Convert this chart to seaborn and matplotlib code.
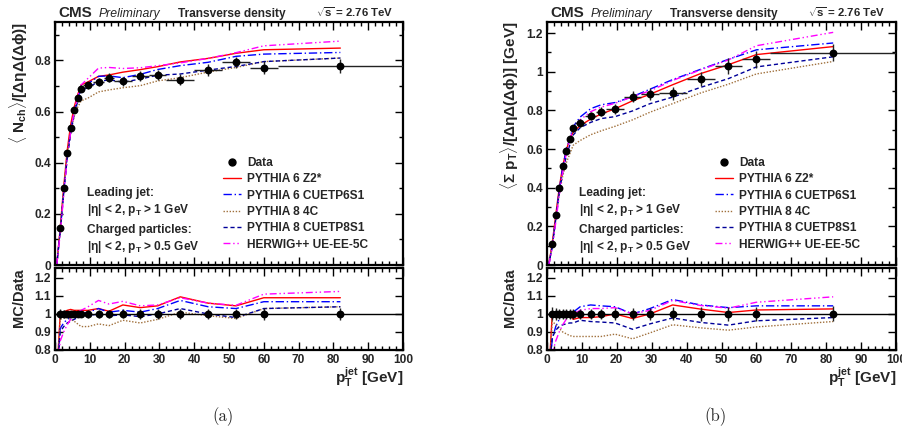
import numpy as np
import pandas as pd
import matplotlib
matplotlib.use("Agg")
import matplotlib.pyplot as plt
from matplotlib.lines import Line2D
from matplotlib.ticker import MultipleLocator, FuncFormatter
import seaborn as sns

# ---- binning in leading-jet pT [GeV] ----
pt_lo = [1, 2, 3, 4, 5, 6, 7, 8, 11, 14, 17, 22, 27, 32, 40, 48, 56, 64]
pt_hi = [2, 3, 4, 5, 6, 7, 8, 11, 14, 17, 22, 27, 32, 40, 48, 56, 64, 100]
first_bin_center = 0.5   # 0-1 GeV bin, MC only

# ---- (a) charged-particle density ----
nch_data = [0.145, 0.302, 0.438, 0.535, 0.605, 0.652, 0.690, 0.702, 0.716,
            0.732, 0.718, 0.738, 0.742, 0.725, 0.762, 0.792, 0.772, 0.778]
nch_err = [0.004, 0.006, 0.008, 0.010, 0.011, 0.012, 0.013, 0.014, 0.016,
           0.017, 0.018, 0.020, 0.020, 0.021, 0.022, 0.023, 0.024, 0.026]
nch_ratio_z2 = [1.00, 1.01, 1.02, 1.025, 1.02, 1.02, 1.02, 1.02, 1.03,
                1.015, 1.05, 1.035, 1.045, 1.095, 1.06, 1.045, 1.09, 1.09]
nch_ratio_p6s1 = [0.92, 0.95, 0.97, 0.98, 0.99, 1.00, 1.00, 1.01, 1.03,
                  1.01, 1.02, 1.01, 1.03, 1.075, 1.04, 1.03, 1.068, 1.068]
nch_ratio_4c = [0.97, 0.98, 0.98, 0.97, 0.96, 0.945, 0.93, 0.93, 0.945,
                0.935, 0.965, 0.95, 0.97, 1.01, 0.99, 0.975, 1.03, 1.04]
nch_ratio_p8s1 = [0.90, 0.93, 0.95, 0.96, 0.97, 0.98, 0.985, 0.99, 1.00,
                  0.99, 0.995, 0.985, 1.00, 1.03, 1.00, 0.98, 1.03, 1.04]
nch_ratio_herwig = [0.85, 0.90, 0.94, 0.97, 0.99, 1.01, 1.02, 1.04, 1.075,
                    1.055, 1.07, 1.045, 1.05, 1.09, 1.06, 1.048, 1.11, 1.125]

# ---- (b) scalar pT-sum density ----
ptsum_data = [0.111, 0.258, 0.398, 0.511, 0.592, 0.652, 0.708, 0.736, 0.770,
              0.793, 0.808, 0.871, 0.883, 0.888, 0.964, 1.028, 1.065, 1.099]
ptsum_err = [0.004, 0.008, 0.012, 0.014, 0.016, 0.017, 0.018, 0.020, 0.022,
             0.024, 0.026, 0.030, 0.031, 0.032, 0.036, 0.042, 0.044, 0.046]
ptsum_ratio_z2 = [1.00, 1.00, 1.00, 1.00, 1.00, 1.00, 0.97, 0.98, 0.98,
                  0.985, 1.00, 0.975, 1.00, 1.05, 1.027, 1.008, 1.022, 1.028]
ptsum_ratio_p6s1 = [0.86, 0.93, 0.97, 0.99, 1.00, 1.00, 1.01, 1.04, 1.05,
                    1.045, 1.04, 1.00, 1.03, 1.08, 1.05, 1.035, 1.045, 1.045]
ptsum_ratio_4c = [0.96, 0.94, 0.92, 0.90, 0.89, 0.88, 0.875, 0.875, 0.875,
                  0.875, 0.888, 0.862, 0.895, 0.94, 0.923, 0.91, 0.928, 0.958]
ptsum_ratio_p8s1 = [0.87, 0.91, 0.93, 0.94, 0.945, 0.95, 0.95, 0.965, 0.958,
                    0.955, 0.95, 0.915, 0.945, 0.978, 0.953, 0.938, 0.962, 0.98]
ptsum_ratio_herwig = [0.78, 0.85, 0.90, 0.94, 0.97, 0.99, 1.00, 1.02, 1.03,
                      1.03, 1.035, 1.00, 1.02, 1.075, 1.047, 1.032, 1.065, 1.095]

# MC in the 0-1 GeV bin (density and MC/Data, off-scale low)
mc_first_density = 0.0
mc_first_ratio = 0.65

mc_labels = ["PYTHIA 6 Z2*", "PYTHIA 6 CUETP6S1", "PYTHIA 8 4C",
             "PYTHIA 8 CUETP8S1", "HERWIG++ UE-EE-5C"]
mc_colors = ["#ff0000", "#0000ff", "#a0703c", "#000099", "#ff00ff"]
mc_styles = ["-", (0, (6, 2, 1, 2)), (0, (1, 1.2)), (0, (3, 2)),
             (0, (5, 2, 1, 2, 1, 2))]

sns.set_theme(style="ticks")
plt.rcParams["font.family"] = ["Liberation Sans", "DejaVu Sans"]
plt.rcParams["font.weight"] = "bold"
plt.rcParams["mathtext.fontset"] = "custom"
for key in ("rm", "bf", "it", "sf"):
    plt.rcParams["mathtext." + key] = "Liberation Sans:bold"

W, H = 902, 432
fig = plt.figure(figsize=(W / 100, H / 100), dpi=100)


def fx(px):
    return px / W


def fy(py):
    return 1 - py / H


def box(x0, y0, x1, y1):
    return [fx(x0), fy(y1), fx(x1) - fx(x0), (y1 - y0) / H]


fmt = FuncFormatter(lambda v, p: "%g" % round(v, 3))


def style_axes(ax, ymajor, yminor=None):
    ax.set_xlim(0, 100)
    ax.xaxis.set_major_locator(MultipleLocator(10))
    ax.xaxis.set_minor_locator(MultipleLocator(2))
    ax.yaxis.set_major_locator(MultipleLocator(ymajor))
    if yminor:
        ax.yaxis.set_minor_locator(MultipleLocator(yminor))
    ax.yaxis.set_major_formatter(fmt)
    ax.xaxis.set_major_formatter(fmt)
    ax.tick_params(which="both", direction="in", top=True, right=True,
                   labelsize=8.6, width=1, color="black", pad=3)
    ax.tick_params(which="major", length=6)
    ax.tick_params(which="minor", length=3)
    for s in ax.spines.values():
        s.set_linewidth(1.6)
        s.set_color("black")
    ax.set_xlabel("")
    ax.set_ylabel("")
    for lab in ax.get_xticklabels() + ax.get_yticklabels():
        lab.set_fontweight("bold")


def draw_panel(x0, x1, data, err, ratios, ymax, ymajor, yminor, tag,
               ylabel, ylabel_x, ylabel_size):
    ax = fig.add_axes(box(x0, 22, x1, 265))
    axr = fig.add_axes(box(x0, 268, x1, 350))

    centers = [(a + b) / 2 for a, b in zip(pt_lo, pt_hi)]
    xlo = [c - a for c, a in zip(centers, pt_lo)]
    xhi = [b - c for c, b in zip(centers, pt_hi)]
    xs = [first_bin_center] + centers

    # MC predictions
    for lab, col, ls, rat in zip(mc_labels, mc_colors, mc_styles, ratios):
        dens = [mc_first_density] + [r * d for r, d in zip(rat, data)]
        rr = [mc_first_ratio] + list(rat)
        df = pd.DataFrame({"pt": xs, "dens": dens, "ratio": rr})
        sns.lineplot(data=df, x="pt", y="dens", ax=ax, color=col,
                     linestyle=ls, linewidth=1.0, estimator=None,
                     sort=False, legend=False)
        sns.lineplot(data=df, x="pt", y="ratio", ax=axr, color=col,
                     linestyle=ls, linewidth=1.0, estimator=None,
                     sort=False, legend=False)

    # data
    ax.errorbar(centers, data, yerr=err, xerr=[xlo, xhi], fmt="none",
                ecolor="#222222", elinewidth=1.0, capsize=0, zorder=5)
    sns.scatterplot(x=centers, y=data, ax=ax, color="black", s=32,
                    edgecolor="black", linewidth=0, zorder=6, legend=False)

    ones = [1.0] * len(centers)
    rel = [e / d for e, d in zip(err, data)]
    axr.axhline(1.0, color="black", linewidth=1.0, zorder=3)
    axr.errorbar(centers, ones, yerr=rel, fmt="none", ecolor="#222222",
                 elinewidth=1.0, capsize=0, zorder=5)
    sns.scatterplot(x=centers, y=ones, ax=axr, color="black", s=32,
                    edgecolor="black", linewidth=0, zorder=6, legend=False)

    ax.set_ylim(0, ymax)
    axr.set_ylim(0.8, 1.255)
    style_axes(ax, ymajor, yminor)
    style_axes(axr, 0.1)
    ax.tick_params(labelbottom=False)

    # legend
    handles = [Line2D([], [], color="black", marker="o", markersize=5,
                      linestyle="none")]
    handles += [Line2D([], [], color=c, linestyle=s, linewidth=1.0)
                for c, s in zip(mc_colors, mc_styles)]
    leg = ax.legend(handles, ["Data"] + mc_labels, loc="upper left",
                    bbox_to_anchor=(fx(x0 + 168), fy(157)),
                    bbox_transform=fig.transFigure, frameon=False,
                    fontsize=8.6, handlelength=1.5, handletextpad=0.5,
                    labelspacing=0.36, borderpad=0, borderaxespad=0)
    for t in leg.get_texts():
        t.set_fontweight("bold")

    # selection text
    sel = ["Leading jet:", r"|$\eta$| < 2, p$_{\mathrm{T}}$ > 1 GeV",
           "Charged particles:", r"|$\eta$| < 2, p$_{\mathrm{T}}$ > 0.5 GeV"]
    for s, yy in zip(sel, [193, 210, 230, 247]):
        fig.text(fx(x0 + 32), fy(yy), s, fontsize=8.6, fontweight="bold",
                 va="center", ha="left")

    # header
    fig.text(fx(x0 + 3), fy(17), "CMS", fontsize=11, fontweight="bold",
             va="baseline")
    fig.text(fx(x0 + 44), fy(17), "Preliminary", fontsize=8.8,
             fontweight="normal", style="italic", va="baseline")
    fig.text(fx(x0 + 123), fy(17), "Transverse density", fontsize=8.6,
             fontweight="bold", va="baseline")
    fig.text(fx(x0 + 338), fy(17), r"$\sqrt{\mathrm{s}}$ = 2.76 TeV",
             fontsize=8.2, fontweight="bold", va="baseline", ha="right")

    # axis titles
    fig.text(fx(ylabel_x), fy(22), ylabel, rotation=90, fontsize=ylabel_size,
             fontweight="bold", ha="center", va="top")
    fig.text(fx(ylabel_x), fy(268), "MC/Data", rotation=90, fontsize=10.5,
             fontweight="bold", ha="center", va="top")
    fig.text(fx(x1), fy(377), r"p$_{\mathrm{T}}^{\mathrm{jet}}$ [GeV]",
             fontsize=11, fontweight="bold", ha="right", va="center")

    # sub-figure tag
    fig.text(fx((x0 + x1) / 2 - 6), fy(417), tag, fontsize=12,
             family="cmr10", fontweight="normal", ha="center", va="center")


draw_panel(55, 403, nch_data, nch_err,
           [nch_ratio_z2, nch_ratio_p6s1, nch_ratio_4c, nch_ratio_p8s1,
            nch_ratio_herwig],
           0.95, 0.2, 0.1, "(a)",
           r"$\langle$ N$_{\mathrm{ch}}\rangle$/[$\Delta\eta\Delta(\Delta\phi)$]",
           19, 11)
draw_panel(547, 896, ptsum_data, ptsum_err,
           [ptsum_ratio_z2, ptsum_ratio_p6s1, ptsum_ratio_4c,
            ptsum_ratio_p8s1, ptsum_ratio_herwig],
           1.257, 0.2, 0.1, "(b)",
           r"$\langle\Sigma$ p$_{\mathrm{T}}\rangle$/[$\Delta\eta\Delta(\Delta\phi)$] [GeV]",
           510, 11)

fig.savefig("out.png", dpi=100, facecolor="white")
